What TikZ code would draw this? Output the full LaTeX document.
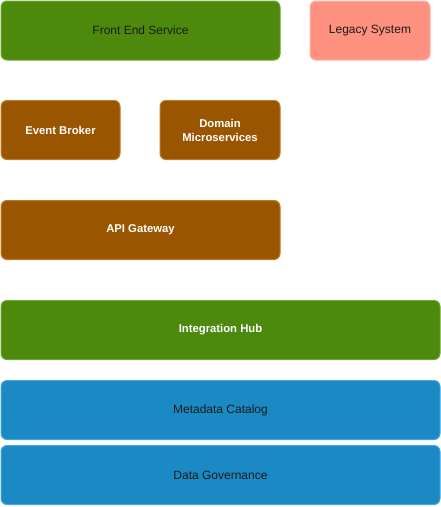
\documentclass[tikz,border=0pt]{standalone}
\usepackage{fontspec}
\setmainfont{Liberation Sans}
\definecolor{hubgreen}{HTML}{4D890C}
\definecolor{hubline}{HTML}{6BA832}
\definecolor{svcbrown}{HTML}{995500}
\definecolor{svcline}{HTML}{BE7A1E}
\definecolor{legacyred}{HTML}{FF9180}
\definecolor{legacyline}{HTML}{FFB2A6}
\definecolor{datablue}{HTML}{1B8AC4}
\definecolor{dataline}{HTML}{45A6DE}
\definecolor{darktext}{HTML}{1A1A1A}
\tikzset{
  block/.style={rectangle, rounded corners=6pt, line width=1pt, inner sep=0pt,
    align=center, font=\fontsize{12}{14}\selectfont, minimum height=59pt},
  boldtext/.style={text=white, font=\fontsize{11.3}{14}\selectfont\bfseries},
  greenblock/.style={block, fill=hubgreen, draw=hubline},
  brownblock/.style={block, fill=svcbrown, draw=svcline, boldtext},
  redblock/.style={block, fill=legacyred, draw=legacyline, text=darktext},
  blueblock/.style={block, fill=datablue, draw=dataline, text=darktext}
}
\begin{document}
\begin{tikzpicture}[x=1pt,y=1pt]
\useasboundingbox (0,0) rectangle (441,-507);

\node[greenblock, text=darktext, minimum width=279pt] (frontend) at (140.5,-30.5) {Front End Service};
\node[redblock, minimum width=120pt] (legacy) at (370,-30.5) {Legacy System};

\node[brownblock, minimum width=119pt] (broker) at (60.5,-130) {Event Broker};
\node[brownblock, minimum width=120pt] (domain) at (220,-130) {Domain\\Microservices};

\node[brownblock, minimum width=279pt] (gateway) at (140.5,-230) {API Gateway};

\node[greenblock, boldtext, minimum width=439pt] (hub) at (220.5,-330) {Integration Hub};

\node[blueblock, minimum width=439pt] (catalog) at (220.5,-410) {Metadata Catalog};
\node[blueblock, minimum width=439pt] (governance) at (220.5,-475) {Data Governance};
\end{tikzpicture}
\end{document}
